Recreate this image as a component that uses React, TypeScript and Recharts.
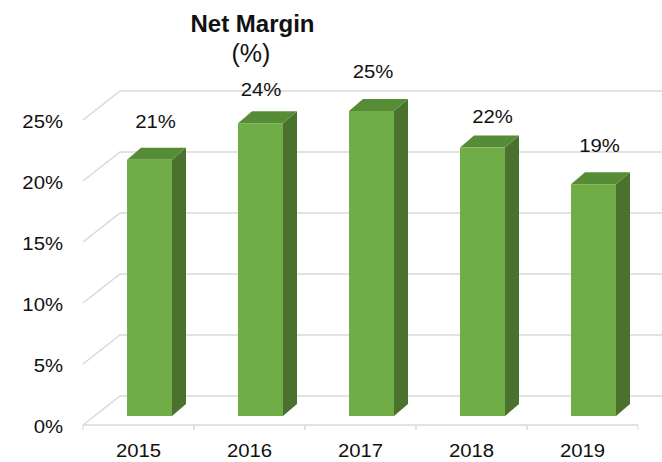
import React from 'react';
import { BarChart, Bar, XAxis, YAxis, CartesianGrid, LabelList } from 'recharts';

const years = ['2015', '2016', '2017', '2018', '2019'];
const netMargin = [21, 24, 25, 22, 19];
const yTicks = [0, 5, 10, 15, 20, 25];

const data = years.map((year, i) => ({ year, value: netMargin[i] }));

const FONT = '"Liberation Sans", Arial, sans-serif';
const TEXT = '#111111';
const GRID = '#D9D9D9';
const FRONT = '#70AD47';
const TOP = '#578C37';
const SIDE = '#4A712E';

const DEPTH_FRONT = 9; // floor front edge below bar baseline
const DEPTH_BACK = 20; // back wall above bar baseline
const WALL_DX = 37;
const BAR_SHIFT = 11;
const BAR_DX = 14;
const BAR_DY = 12;
const BAND = 111;
const STRETCH = 'scaleX(1.13)';
// per-label placement nudges (style only): [dx from bar centre, baseline offset above bar top]
const LABEL_NUDGE: [number, number][] = [
  [17, 32],
  [11.5, 27],
  [12.5, 33],
  [21, 25],
  [17, 32],
];

const renderGridLine = (props: any) => {
  const { x1, x2, y1 } = props;
  const d = `M${x1},${y1 + DEPTH_FRONT} L${x1 + WALL_DX},${y1 - DEPTH_BACK} L${x2 + WALL_DX},${y1 - DEPTH_BACK}`;
  return <path key={props.key ?? `g-${y1}`} d={d} fill="none" stroke={GRID} strokeWidth={1.5} />;
};

const XTick = (props: any) => {
  const { x, y, payload } = props;
  const fy = y + DEPTH_FRONT;
  return (
    <g>
      <line x1={x - BAND / 2} y1={fy} x2={x + BAND / 2} y2={fy} stroke={GRID} strokeWidth={1.5} />
      <line x1={x - BAND / 2} y1={fy} x2={x - BAND / 2} y2={fy + 5} stroke={GRID} strokeWidth={1} />
      <line x1={x + BAND / 2} y1={fy} x2={x + BAND / 2} y2={fy + 5} stroke={GRID} strokeWidth={1} />
      <text
        x={x}
        y={y + 41}
        textAnchor="middle"
        fontSize={18}
        fontFamily={FONT}
        fill={TEXT}
        style={{ transform: STRETCH, transformBox: 'fill-box', transformOrigin: 'center' } as any}
      >
        {payload.value}
      </text>
    </g>
  );
};

const YTick = (props: any) => {
  const { y, payload } = props;
  return (
    <text
      x={63}
      y={y + 17.5}
      textAnchor="end"
      fontSize={18}
      fontFamily={FONT}
      fill={TEXT}
      style={{ transform: STRETCH, transformBox: 'fill-box', transformOrigin: 'right center' } as any}
    >
      {`${payload.value}%`}
    </text>
  );
};

const Bar3D = (props: any) => {
  const { x, y, width, height } = props;
  const fx = x + BAR_SHIFT;
  const top = `${fx},${y} ${fx + BAR_DX},${y - BAR_DY} ${fx + width + BAR_DX},${y - BAR_DY} ${fx + width},${y}`;
  const side = `${fx + width},${y} ${fx + width + BAR_DX},${y - BAR_DY} ${fx + width + BAR_DX},${y + height - BAR_DY} ${fx + width},${y + height}`;
  return (
    <g>
      <polygon points={side} fill={SIDE} />
      <polygon points={top} fill={TOP} />
      <rect x={fx} y={y} width={width} height={height} fill={FRONT} />
    </g>
  );
};

const BarLabel = (props: any) => {
  const { x, y, width, value, index } = props;
  const [dx, dy] = LABEL_NUDGE[index] ?? [16, 30];
  return (
    <text
      x={x + width / 2 + dx}
      y={y - dy}
      textAnchor="middle"
      fontSize={18}
      fontFamily={FONT}
      fill={TEXT}
      style={{ transform: STRETCH, transformBox: 'fill-box', transformOrigin: 'center' } as any}
    >
      {`${value}%`}
    </text>
  );
};

export default function App() {
  return (
    <div style={{ position: 'absolute', left: 0, top: 0, width: 662, height: 462, background: '#fff', fontFamily: FONT }}>
      <BarChart
        width={662}
        height={462}
        data={data}
        margin={{ top: 111, right: 24, bottom: 16, left: 0 }}
        barSize={45}
      >
        <CartesianGrid vertical={false} horizontal={renderGridLine} />
        <XAxis
          dataKey="year"
          height={30}
          axisLine={false}
          tickLine={false}
          tickSize={0}
          tickMargin={0}
          interval={0}
          tick={<XTick />}
        />
        <YAxis
          width={83}
          domain={[0, 25]}
          ticks={yTicks}
          axisLine={false}
          tickLine={false}
          tick={<YTick />}
        />
        <Bar dataKey="value" isAnimationActive={false} shape={<Bar3D />}>
          <LabelList dataKey="value" content={<BarLabel />} />
        </Bar>
      </BarChart>
      <svg width={662} height={70} style={{ position: 'absolute', left: 0, top: 0, pointerEvents: 'none' }}>
        <text x={252.5} y={32} textAnchor="middle" fontSize={24} fontWeight="bold" fontFamily={FONT} fill={TEXT}>
          Net Margin
        </text>
        <text x={251} y={62} textAnchor="middle" fontSize={25} fontFamily={FONT} fill={TEXT}>
          (%)
        </text>
      </svg>
    </div>
  );
}
